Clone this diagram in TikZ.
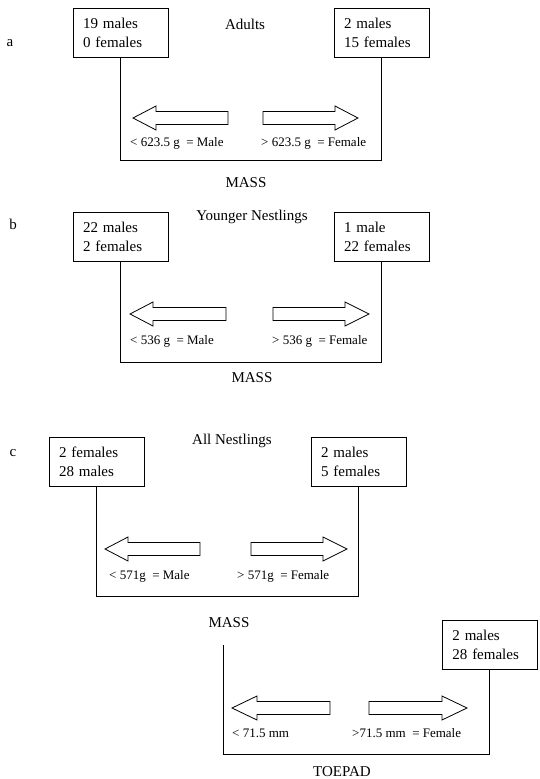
\documentclass[tikz,border=0pt]{standalone}
\usepackage{fontspec}
\setmainfont{Liberation Serif}
\tikzset{
  cnt/.style={draw, line width=0.8pt, minimum width=95pt, minimum height=49pt, text width=75pt, align=left, inner sep=0pt, font=\fontsize{15}{19}\selectfont},
  big/.style={inner sep=0pt, font=\fontsize{15}{18}\selectfont},
  small/.style={inner sep=0pt, anchor=west, font=\fontsize{13}{15}\selectfont},
  conn/.style={line width=0.8pt},
  arr/.style={draw, line width=0.8pt, fill=white},
}
\newcommand{\myarrow}[4]{% tip, headbase, end, y
  \draw[arr] (#1,#4) -- (#2,#4-12) -- (#2,#4-6.5) -- (#3,#4-6.5) -- (#3,#4+6.5) -- (#2,#4+6.5) -- (#2,#4+12) -- cycle;}
\begin{document}
\begin{tikzpicture}[x=1pt,y=-1pt]
\useasboundingbox (0,0) rectangle (539,779);
% ---- panel a
\node[big] (la) at (10,43) {a};
\node[big] (ta) at (245,24) {Adults};
\node[cnt] (a1) at (120.5,32.5) {19 males\\0 females};
\node[cnt] (a2) at (381.5,32.5) {2 males\\15 females};
\draw[conn] (a1.south) -- (a1.south |- 0,160) -| (a2.south);
\myarrow{133}{156}{228}{118}
\myarrow{358}{335}{263}{118}
\node[small] (a3) at (130,143) {< 623.5 g\ \ = Male};
\node[small] (a4) at (261,143) {> 623.5 g\ \ = Female};
\node[big] (a5) at (246,183) {MASS};
% ---- panel b
\node[big] (lb) at (13,224) {b};
\node[big] (tb) at (252,217) {Younger Nestlings};
\node[cnt] (b1) at (120.5,236.5) {22 males\\2 females};
\node[cnt] (b2) at (381.5,236.5) {1 male\\22 females};
\draw[conn] (b1.south) -- (b1.south |- 0,362) -| (b2.south);
\myarrow{130}{153}{226}{314}
\myarrow{369}{345}{273}{314}
\node[small] (b3) at (130,341) {< 536 g\ \ = Male};
\node[small] (b4) at (272,341) {> 536 g\ \ = Female};
\node[big] (b5) at (252,378) {MASS};
% ---- panel c
\node[big] (lc) at (13,453) {c};
\node[big] (tc) at (232,441) {All Nestlings};
\node[cnt] (c1) at (96.5,461.5) {2 females\\28 males};
\node[cnt] (c2) at (358.5,461.5) {2 males\\5 females};
\draw[conn] (c1.south) -- (c1.south |- 0,596) -| (c2.south);
\myarrow{105}{128}{200}{549}
\myarrow{347}{323}{251}{549}
\node[small] (c3) at (109,576) {< 571g\ \ = Male};
\node[small] (c4) at (237,576) {> 571g\ \ = Female};
\node[big] (c5) at (229,623) {MASS};
% ---- lower part
\coordinate (d0) at (223,645);
\node[cnt] (d1) at (489.75,645) {2 males\\28 females};
\draw[conn] (d0) -- (d0 |- 0,754) -| (d1.south);
\myarrow{232}{257}{330}{708}
\myarrow{467}{442}{369}{708}
\node[small] (d3) at (232,733) {< 71.5 mm};
\node[small] (d4) at (352,733) {>71.5 mm\ \ = Female};
\node[big] (d5) at (342,772) {TOEPAD};
\end{tikzpicture}
\end{document}
